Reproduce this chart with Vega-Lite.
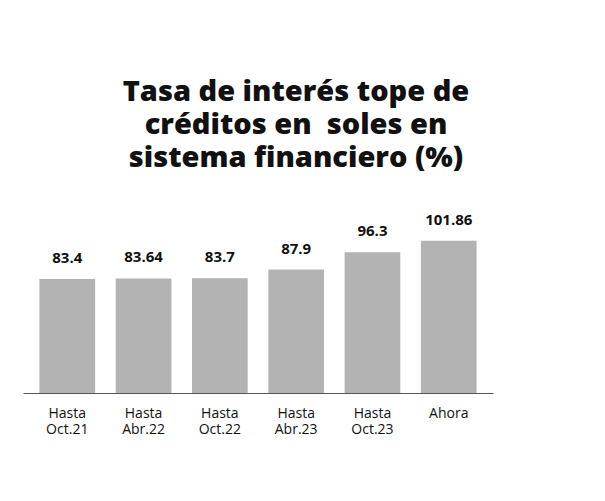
{
  "$schema": "https://vega.github.io/schema/vega-lite/v6.json",
  "width": 470,
  "height": 206,
  "autosize": {"type": "none"},
  "padding": {"left": 23, "top": 187, "right": 112, "bottom": 108},
  "background": "white",
  "title": {
    "text": ["Tasa de interés tope de", "créditos en \u00a0soles en", "sistema financiero (%)"],
    "font": "Open Sans",
    "fontSize": 29,
    "fontWeight": 800,
    "lineHeight": 33,
    "anchor": "middle",
    "dx": 38,
    "offset": 14,
    "color": "#111111"
  },
  "data": {
    "values": [
      {"periodo": "Hasta Oct.21", "valor": 83.4},
      {"periodo": "Hasta Abr.22", "valor": 83.64},
      {"periodo": "Hasta Oct.22", "valor": 83.7},
      {"periodo": "Hasta Abr.23", "valor": 87.9},
      {"periodo": "Hasta Oct.23", "valor": 96.3},
      {"periodo": "Ahora", "valor": 101.86}
    ]
  },
  "encoding": {
    "x": {
      "field": "periodo",
      "type": "nominal",
      "sort": null,
      "scale": {"paddingInner": 0.27, "paddingOuter": 0.215},
      "axis": {
        "title": null,
        "labelAngle": 0,
        "labelExpr": "split(datum.label, ' ')",
        "labelFont": "Open Sans",
        "labelFontSize": 14,
        "labelLineHeight": 16,
        "labelColor": "#111111",
        "labelPadding": 13,
        "ticks": false,
        "domain": true,
        "domainColor": "#555555",
        "domainWidth": 1
      }
    },
    "y": {
      "field": "valor",
      "type": "quantitative",
      "scale": {"domain": [28, 128], "zero": false},
      "axis": null
    }
  },
  "layer": [
    {
      "mark": {"type": "bar", "color": "#b3b3b3"},
      "encoding": {"y2": {"datum": 28}}
    },
    {
      "mark": {
        "type": "text",
        "baseline": "bottom",
        "dy": -13,
        "font": "Open Sans",
        "fontSize": 15,
        "fontWeight": "bold",
        "color": "#111111"
      },
      "encoding": {"text": {"field": "valor", "type": "quantitative", "format": "~r"}}
    }
  ],
  "config": {"view": {"stroke": null}}
}
